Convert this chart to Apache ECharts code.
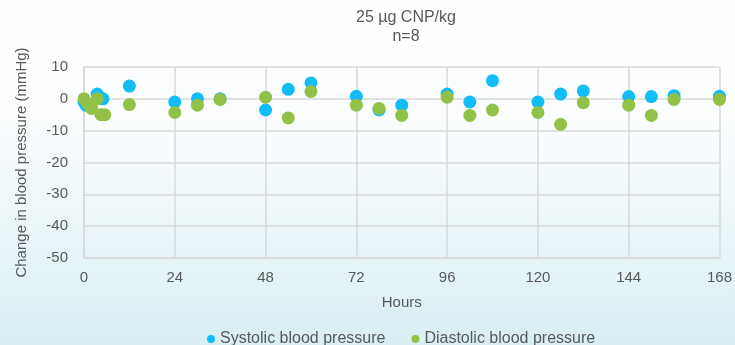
<!DOCTYPE html>
<html>
<head>
<meta charset="utf-8">
<script src="https://cdn.jsdelivr.net/npm/echarts@6/dist/echarts.min.js"></script>
<style>
  html, body { margin: 0; padding: 0; }
  #chart { width: 735px; height: 345px; }
</style>
</head>
<body>
<div id="chart"></div>
<script>
// Change from baseline in blood pressure (mmHg) over hours after dosing
const xTicks = [0, 24, 48, 72, 96, 120, 144, 168];
const yTicks = [-50, -40, -30, -20, -10, 0, 10];

const systolicHours  = [0, 0.5, 3.5, 5, 12, 24, 30, 36, 48, 54, 60, 72, 78, 84, 96, 102, 108, 120, 126, 132, 144, 150, 156, 168];
const systolicValues = [-1, -2, 1.5, 0, 4, -1, 0, 0, -3.5, 3, 5, 0.8, -3.5, -2, 1.5, -1, 5.7, -1, 1.5, 2.5, 0.7, 0.7, 1, 0.8];

const diastolicHours  = [0, 1, 2, 3.5, 4.5, 5.5, 12, 24, 30, 36, 48, 54, 60, 72, 78, 84, 96, 102, 108, 120, 126, 132, 144, 150, 156, 168];
const diastolicValues = [0, -1.5, -3, 0, -5, -5, -1.8, -4.3, -2, -0.2, 0.5, -6, 2.3, -2, -3, -5.2, 0.5, -5.2, -3.5, -4.3, -8, -1.2, -2, -5.2, -0.2, -0.2];

const pair = (xs, ys) => xs.map((x, i) => [x, ys[i]]);

const textColor = '#595959';
const gridColor = '#d9d9d9';
const font = 'Liberation Sans';

const chart = echarts.init(document.getElementById('chart'));
chart.setOption({
  animation: false,
  backgroundColor: new echarts.graphic.LinearGradient(0, 0, 0, 1, [
    { offset: 0, color: '#ffffff' },
    { offset: 0.35, color: '#fbfdfe' },
    { offset: 1, color: '#d9eef3' }
  ]),
  title: {
    text: '25 µg CNP/kg\nn=8',
    left: 401,
    top: 3,
    textAlign: 'center',
    textStyle: {
      fontFamily: font,
      fontSize: 16,
      fontWeight: 'normal',
      color: textColor,
      lineHeight: 19
    }
  },
  grid: { left: 84, right: 15, top: 67, bottom: 87, containLabel: false },
  xAxis: {
    type: 'value',
    min: 0,
    max: 168,
    interval: 24,
    name: 'Hours',
    nameLocation: 'middle',
    nameGap: 37,
    nameTextStyle: { fontFamily: font, fontSize: 15, color: textColor },
    axisLine: { show: true, onZero: false, lineStyle: { color: gridColor, width: 1.5 } },
    axisTick: { show: false },
    axisLabel: {
      fontFamily: font, fontSize: 15, color: textColor, margin: 12,
      formatter: v => xTicks.includes(v) ? String(v) : ''
    },
    splitLine: { show: true, lineStyle: { color: gridColor, width: 1.5 } }
  },
  yAxis: {
    type: 'value',
    min: -50,
    max: 10,
    interval: 10,
    name: 'Change in blood pressure (mmHg)',
    nameLocation: 'middle',
    nameGap: 55,
    nameTextStyle: { fontFamily: font, fontSize: 15, color: textColor },
    axisLine: { show: true, lineStyle: { color: gridColor, width: 1.5 } },
    axisTick: { show: false },
    axisLabel: {
      fontFamily: font, fontSize: 15, color: textColor, margin: 16,
      formatter: v => yTicks.includes(v) ? String(v) : ''
    },
    splitLine: { show: true, lineStyle: { color: gridColor, width: 1.5 } }
  },
  legend: {
    top: 326,
    left: 202,
    itemWidth: 8,
    itemHeight: 8,
    itemGap: 26,
    icon: 'circle',
    textStyle: { fontFamily: font, fontSize: 16, color: textColor },
    data: ['Systolic blood pressure', 'Diastolic blood pressure']
  },
  series: [
    {
      name: 'Systolic blood pressure',
      type: 'scatter',
      symbolSize: 13,
      itemStyle: { color: '#12bdf7', opacity: 1 },
      data: pair(systolicHours, systolicValues)
    },
    {
      name: 'Diastolic blood pressure',
      type: 'scatter',
      symbolSize: 13,
      itemStyle: { color: '#92c147', opacity: 1 },
      data: pair(diastolicHours, diastolicValues)
    }
  ]
});
</script>
</body>
</html>
